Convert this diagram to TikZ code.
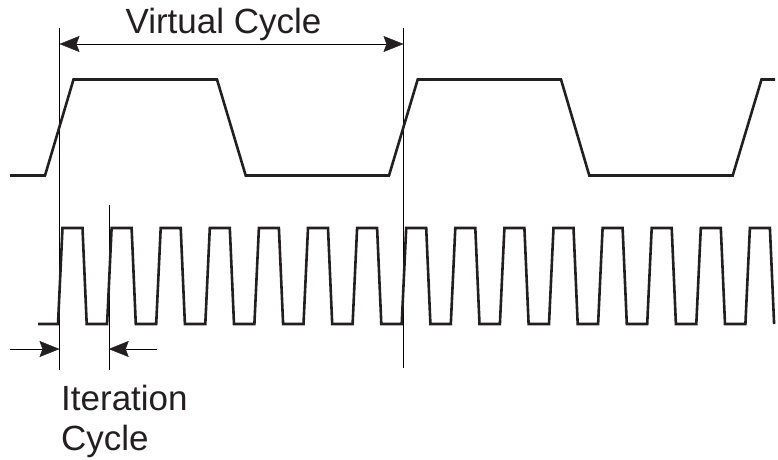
\documentclass[tikz,border=0pt]{standalone}
\usepackage{fontspec}
\setmainfont{Liberation Sans}
\usetikzlibrary{arrows.meta}
\definecolor{ink}{RGB}{35,31,32}
\definecolor{thin}{RGB}{100,100,102}
\tikzset{
  tipk/.style={Stealth[length=20pt,width=16pt,inset=3pt,color=ink]},
  wave/.style={line width=2.6pt, ink, line join=miter},
  guide/.style={line width=1pt, thin},
  dimline/.style={line width=1pt, thin, -{Stealth[length=20pt,width=16pt,inset=3pt,color=ink]}},
  dimboth/.style={line width=1pt, thin, {Stealth[length=20pt,width=16pt,inset=3pt,color=ink]}-{Stealth[length=20pt,width=16pt,inset=3pt,color=ink]}},
  lbl/.style={font=\fontsize{35}{40}\selectfont, text=ink, inner sep=0pt}
}
\begin{document}
\begin{tikzpicture}[x=1pt,y=-1pt]
\useasboundingbox (0,0) rectangle (778,459);
% guide lines
\coordinate (vlTop) at (59.5,28);
\coordinate (vlBot) at (59.5,370);
\coordinate (vrTop) at (403.5,28);
\coordinate (vrBot) at (403.5,368);
\coordinate (imTop) at (108.7,205);
\coordinate (imBot) at (108.7,370);
\draw[guide] (vlTop) -- (vlBot);
\draw[guide] (vrTop) -- (vrBot);
\draw[guide] (imTop) -- (imBot);
% virtual cycle dimension
\coordinate (vaL) at (59.5,44);
\coordinate (vaR) at (403.5,44);
\draw[dimboth] (vaL) -- (vaR);
\node[lbl, anchor=base] (vc) at (223.5,33) {Virtual Cycle};
% iteration cycle dimension
\coordinate (iaL0) at (10,349);
\coordinate (iaL) at (59.5,349);
\coordinate (iaR0) at (157,349);
\coordinate (iaR) at (108.7,349);
\draw[dimline] (iaL0) -- (iaL);
\draw[dimline] (iaR0) -- (iaR);
\node[lbl, anchor=base west] (it1) at (61,410) {Iteration};
\node[lbl, anchor=base west] (it2) at (61,450) {Cycle};
% virtual cycle waveform
\draw[wave] (10,175.5) -- (45,175.5) -- (73.5,79.5) -- (217,79.5) -- (245.7,175.5)
  -- (389,175.5) -- (417.7,79.5) -- (561,79.5) -- (589.3,175.5) -- (732.7,175.5)
  -- (761.5,79.5) -- (775,79.5);
% iteration waveform
\draw[wave] (38,324) \foreach \k in {0,...,14} {
  -- ({58+\k*49.1},324) -- ({62.5+\k*49.1},228) -- ({82.5+\k*49.1},228) -- ({86.7+\k*49.1},324) };
\end{tikzpicture}
\end{document}
